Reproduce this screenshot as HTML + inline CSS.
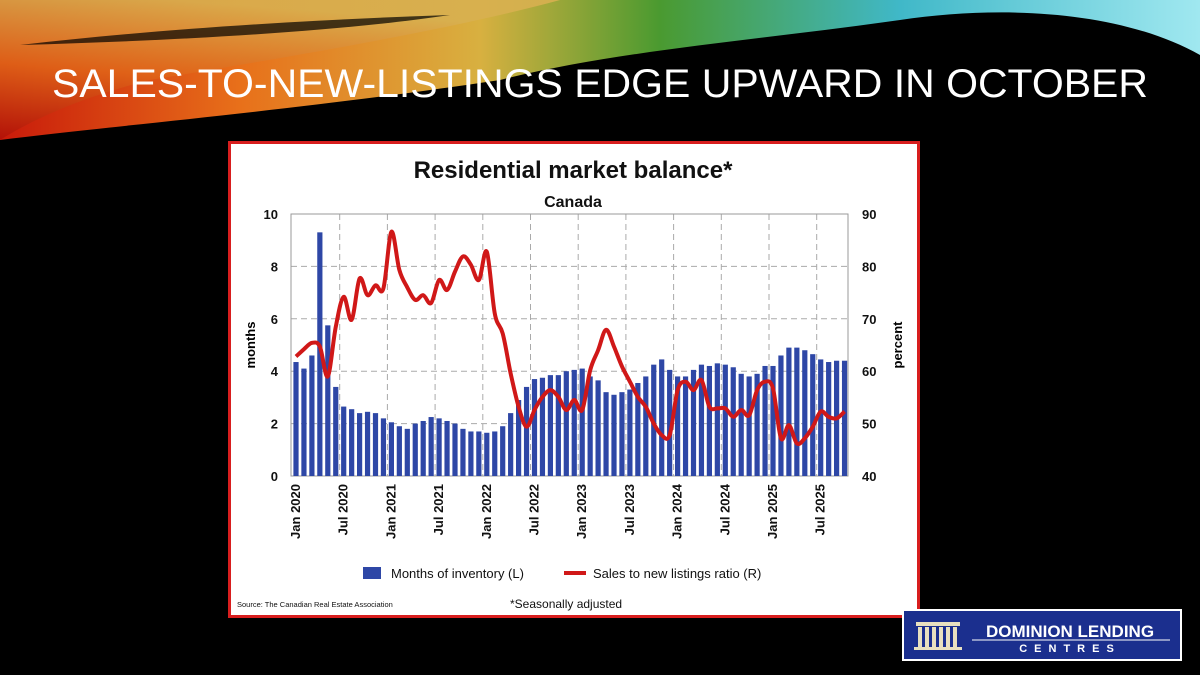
<!DOCTYPE html>
<html><head><meta charset="utf-8"><style>
html,body{margin:0;padding:0;background:#000;width:1200px;height:675px;overflow:hidden}
svg{display:block}
text{font-family:"Liberation Sans",sans-serif}
</style></head><body>
<svg id="s" width="1200" height="675" xmlns="http://www.w3.org/2000/svg">
<defs>
<linearGradient id="sw" x1="0" y1="0" x2="1" y2="0">
<stop offset="0" stop-color="#c81a0a"/><stop offset="0.2" stop-color="#e8701a"/><stop offset="0.4" stop-color="#d8b040"/><stop offset="0.55" stop-color="#4a9a30"/><stop offset="0.75" stop-color="#40b8c8"/><stop offset="1" stop-color="#a0e8f0"/>
</linearGradient>
<linearGradient id="lf" x1="0" y1="1" x2="0.3" y2="0">
<stop offset="0" stop-color="#b01008"/><stop offset="0.5" stop-color="#e06418"/><stop offset="1" stop-color="#d8b050"/>
</linearGradient>
</defs>
<rect width="1200" height="675" fill="#000"/>
<path d="M0,0 L1200,0 L1200,55 C1120,10 1000,5 900,20 C760,40 620,50 500,80 C300,110 120,125 0,140 Z" fill="url(#sw)"/>
<path d="M0,0 L560,0 C450,30 300,55 150,80 C90,95 40,115 0,140 Z" fill="url(#lf)" opacity="0.9"/>
<path d="M20,45 C150,30 300,20 450,15 C350,30 200,40 20,45 Z" fill="#000" opacity="0.7"/>
<text x="52" y="97" font-size="40" fill="#fff" textLength="1096" lengthAdjust="spacingAndGlyphs">SALES-TO-NEW-LISTINGS EDGE UPWARD IN OCTOBER</text>

<rect x="229.5" y="142.5" width="689" height="474" fill="#fff" stroke="#d81e1e" stroke-width="3"/>
<text x="573" y="178" font-size="24" font-weight="bold" text-anchor="middle" fill="#111">Residential market balance*</text>
<text x="573" y="207" font-size="16" font-weight="bold" text-anchor="middle" fill="#111">Canada</text>
<g id="grid"></g>
<g id="bars" fill="#2e47a6"></g>
<path id="line" fill="none" stroke="#d01818" stroke-width="4" stroke-linejoin="round"/>
<g id="lab" font-size="13" font-weight="bold" fill="#111"></g>
<text transform="translate(255,345) rotate(-90)" font-size="13" font-weight="bold" text-anchor="middle">months</text>
<text transform="translate(902,345) rotate(-90)" font-size="13" font-weight="bold" text-anchor="middle">percent</text>
<rect x="363" y="567" width="18" height="12" fill="#2e47a6"/>
<text x="391" y="578" font-size="13" fill="#111">Months of inventory (L)</text>
<line x1="564" y1="573" x2="586" y2="573" stroke="#d01818" stroke-width="4"/>
<text x="593" y="578" font-size="13" fill="#111">Sales to new listings ratio (R)</text>
<text x="237" y="607" font-size="7.5" fill="#111">Source: The Canadian Real Estate Association</text>
<text x="510" y="608" font-size="12" fill="#111">*Seasonally adjusted</text>

<rect x="903" y="610" width="278" height="50" fill="#1b2f8e" stroke="#fff" stroke-width="2"/>
<g fill="#e8e0c0"><rect x="916" y="622" width="44" height="4"/><rect x="918" y="627" width="4" height="20"/><rect x="925" y="627" width="4" height="20"/><rect x="932" y="627" width="4" height="20"/><rect x="939" y="627" width="4" height="20"/><rect x="946" y="627" width="4" height="20"/><rect x="953" y="627" width="4" height="20"/><rect x="914" y="647" width="48" height="3"/></g>
<text x="1070" y="637" font-size="17" font-weight="bold" fill="#fff" text-anchor="middle" font-family="Liberation Serif">DOMINION LENDING</text>
<line x1="972" y1="640" x2="1170" y2="640" stroke="#fff" stroke-width="1"/>
<text x="1070" y="652" font-size="11" font-weight="bold" fill="#fff" text-anchor="middle" letter-spacing="7" font-family="Liberation Serif">CENTRES</text>
</svg>
<script>
var NS="http://www.w3.org/2000/svg";
function el(p,t,a,tx){var e=document.createElementNS(NS,t);for(var k in a)e.setAttribute(k,a[k]);if(tx!=null)e.textContent=tx;p.appendChild(e);return e;}
var L=291,R=848,T=214,B=476;
var g=document.getElementById('grid');
for(var i=1;i<5;i++){var y=B-i*(B-T)/5;el(g,'line',{x1:L,x2:R,y1:y,y2:y,stroke:'#aaa','stroke-dasharray':'6,4'});}
var bars=[4.35,4.1,4.6,9.3,5.75,3.4,2.65,2.55,2.4,2.45,2.4,2.2,2.05,1.9,1.8,2.0,2.1,2.25,2.2,2.1,2.0,1.8,1.7,1.7,1.65,1.7,1.9,2.4,2.9,3.4,3.7,3.75,3.85,3.85,4.0,4.05,4.1,3.8,3.65,3.2,3.1,3.2,3.3,3.55,3.8,4.25,4.45,4.05,3.8,3.8,4.05,4.25,4.2,4.3,4.25,4.15,3.9,3.8,3.9,4.2,4.2,4.6,4.9,4.9,4.8,4.65,4.45,4.35,4.4,4.4];
var ratio=[62.8,64.2,65.4,64.7,59,68.5,74.2,69.8,77.7,74.5,76.4,75.8,86.6,79.3,76,73.6,74.5,73,77.4,75.5,79,81.9,80.3,77.4,82.8,71,67.2,59.6,53.2,49.4,52.6,55.1,56.4,55.1,52.6,54.5,52.6,60.2,64,67.9,64.7,60.9,58,55.1,53.2,50,47.8,47.8,56.4,58,56.4,58.3,53.2,52.9,52.9,51.3,52.6,51.6,56.4,58,56.7,47.2,49.7,46.2,47.2,49.4,52.3,51.3,51,52.3];
var dx=7.95,x0=296;
var months=['Jan','Jul'];
for(var k=0;k<12;k++){
 var x=x0+k*6*dx-4;
 if(k>0)el(g,'line',{x1:x,x2:x,y1:T,y2:B,stroke:'#aaa','stroke-dasharray':'6,4'});
}
el(g,'rect',{x:L,y:T,width:R-L,height:B-T,fill:'none',stroke:'#999'});
var bg=document.getElementById('bars');
bars.forEach(function(v,i){var h=v*(B-T)/10;el(bg,'rect',{x:x0+i*dx-2.6,y:B-h,width:5.2,height:h});});
var P=ratio.map(function(v,i){return [x0+i*dx, B-(v-40)*(B-T)/50];});
var d='M'+P[0][0].toFixed(1)+','+P[0][1].toFixed(1);
for(var i=0;i<P.length-1;i++){
 var p0=P[Math.max(i-1,0)],p1=P[i],p2=P[i+1],p3=P[Math.min(i+2,P.length-1)];
 var c1x=p1[0]+(p2[0]-p0[0])/6,c1y=p1[1]+(p2[1]-p0[1])/6,c2x=p2[0]-(p3[0]-p1[0])/6,c2y=p2[1]-(p3[1]-p1[1])/6;
 d+=' C'+c1x.toFixed(1)+','+c1y.toFixed(1)+' '+c2x.toFixed(1)+','+c2y.toFixed(1)+' '+p2[0].toFixed(1)+','+p2[1].toFixed(1);
}
document.getElementById('line').setAttribute('d',d);
var lb=document.getElementById('lab');
for(var i=0;i<=5;i++){var y=B-i*(B-T)/5;
 el(lb,'text',{x:278,y:y+5,'text-anchor':'end'},String(i*2));
 el(lb,'text',{x:862,y:y+5},String(40+i*10));}
for(var k=0;k<12;k++){
 var x=x0+k*6*dx+4;var yr=2020+Math.floor(k/2);
 el(lb,'text',{transform:'translate('+x+',484) rotate(-90)','text-anchor':'end'},months[k%2]+' '+yr);
}
</script>
</body></html>
